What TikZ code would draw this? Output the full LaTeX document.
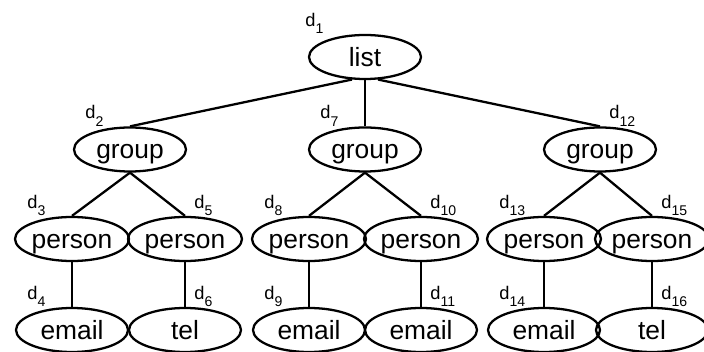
\documentclass[tikz,border=0pt]{standalone}
\usepackage{fontspec}
\setmainfont{Liberation Sans}
\usetikzlibrary{shapes.geometric}

\newcommand{\dsub}[1]{d\raisebox{-4pt}{\fontsize{8}{8}\selectfont #1}}

\begin{document}
\begin{tikzpicture}[every node/.style={font=\fontsize{15}{18}\selectfont},
  elem/.style={draw, ellipse, line width=1.3pt, minimum width=2.24cm, minimum height=0.88cm, inner sep=0pt, text height=10.8pt, text depth=0pt},
  lbl/.style={anchor=south west, inner sep=0pt, font=\fontsize{10.4}{12}\selectfont},
  lleft/.style={lbl, xshift=-0.9cm},
  lright/.style={lbl, xshift=0.18cm},
  link/.style={line width=1.3pt}]
  \useasboundingbox (0,0) rectangle (14.08,7.04);

  % root
  \node[elem, label={[lbl, xshift=-1.2cm]north:\dsub{1}}] (d1) at (7.30,5.90) {list};

  % groups
  \node[elem, label={[lleft]north:\dsub{2}}] (d2) at (2.60,4.05) {group};
  \node[elem, label={[lleft]north:\dsub{7}}] (d7) at (7.30,4.05) {group};
  \node[elem, label={[lright]north:\dsub{12}}] (d12) at (12.00,4.05) {group};

  % persons
  \node[elem, label={[lleft]north:\dsub{3}}] (d3) at (1.44,2.26) {person};
  \node[elem, label={[lright]north:\dsub{5}}] (d5) at (3.70,2.26) {person};
  \node[elem, label={[lleft]north:\dsub{8}}] (d8) at (6.18,2.26) {person};
  \node[elem, label={[lright]north:\dsub{10}}] (d10) at (8.42,2.26) {person};
  \node[elem, label={[lleft]north:\dsub{13}}] (d13) at (10.88,2.26) {person};
  \node[elem, label={[lright]north:\dsub{15}}] (d15) at (13.04,2.26) {person};

  % leaves
  \node[elem, label={[lleft]north:\dsub{4}}] (d4) at (1.44,0.44) {email};
  \node[elem, label={[lright]north:\dsub{6}}] (d6) at (3.70,0.44) {tel};
  \node[elem, label={[lleft]north:\dsub{9}}] (d9) at (6.18,0.44) {email};
  \node[elem, label={[lright]north:\dsub{11}}] (d11) at (8.42,0.44) {email};
  \node[elem, label={[lleft]north:\dsub{14}}] (d14) at (10.88,0.44) {email};
  \node[elem, label={[lright]north:\dsub{16}}] (d16) at (13.04,0.44) {tel};

  \draw[link] (d1.240) -- (d2.north);
  \draw[link] (d1.south) -- (d7.north);
  \draw[link] (d1.300) -- (d12.north);

  \draw[link] (d2.south) -- (d3.north);
  \draw[link] (d2.south) -- (d5.north);
  \draw[link] (d7.south) -- (d8.north);
  \draw[link] (d7.south) -- (d10.north);
  \draw[link] (d12.south) -- (d13.north);
  \draw[link] (d12.south) -- (d15.north);

  \draw[link] (d3.south) -- (d4.north);
  \draw[link] (d5.south) -- (d6.north);
  \draw[link] (d8.south) -- (d9.north);
  \draw[link] (d10.south) -- (d11.north);
  \draw[link] (d13.south) -- (d14.north);
  \draw[link] (d15.south) -- (d16.north);
\end{tikzpicture}
\end{document}
